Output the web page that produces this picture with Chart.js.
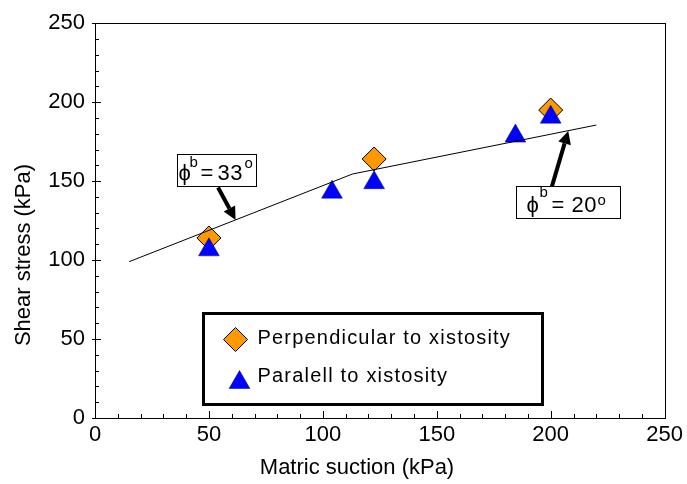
<!DOCTYPE html>
<html><head><meta charset="utf-8">
<script src="https://cdn.jsdelivr.net/npm/chart.js@4/dist/chart.umd.min.js"></script>
<style>html,body{margin:0;padding:0;background:#fff}#wrap{width:687px;height:484px}</style>
</head><body><div id="wrap"><canvas id="c" width="687" height="484"></canvas></div>
<script>
// ---- data ----
const perpX = [50, 122.5, 200];
const perpY = [114, 164, 195];
const paraX = [50, 104, 122.5, 184.5, 200];
const paraY = [106.5, 143, 149, 178.5, 190.5];
const fitX = [15, 113, 220];
const fitY = [99, 154.5, 185.5];
const xTickValues = [0, 50, 100, 150, 200, 250];
const yTickValues = [0, 50, 100, 150, 200, 250];
const seriesNames = ['Perpendicular to xistosity', 'Paralell to xistosity'];
const xTitle = 'Matric suction (kPa)';
const yTitle = 'Shear stress (kPa)';
const annotAngles = ['33', '20'];

// ---- decoration anchors (data space) ----
const annotBoxes = [
  {x1: 35.9, x2: 70.5, yTop: 167.3, yBot: 147.1,
   dx: {phi: 1, b: 12, eq: 23, num: 40, o: 67}, supB: 13, supO: 12, numLS: 0.5,
   from: [54.0, 146.0], to: [61.7, 125.4]},
  {x1: 184.8, x2: 230.3, yTop: 147.1, yBot: 126.9,
   dx: {phi: 10, b: 23, eq: 35, num: 55, o: 81}, supB: 15, supO: 7, numLS: 0.5,
   from: [200.4, 146.0], to: [207.7, 181.8]}
];
const legendBox = {x1: 47.3, x2: 196.1, yTop: 66.3, yBot: 8.8};

const FONT = '"Liberation Sans", Arial, sans-serif';
const toXY = (xs, ys) => xs.map((v, i) => ({x: v, y: ys[i]}));

const decor = {
  id: 'decor',
  beforeDatasetsDraw(chart) {
    const {ctx, chartArea: ca} = chart;
    const xs = chart.scales.x, ys = chart.scales.y;
    ctx.save();
    ctx.strokeStyle = '#000';
    ctx.lineWidth = 1;
    ctx.beginPath();
    for (let v = 0; v <= 250; v += 10) {
      const major = v % 50 === 0;
      const px = Math.round(xs.getPixelForValue(v)) + 0.5;
      ctx.moveTo(px, ca.bottom);
      ctx.lineTo(px, ca.bottom - (major ? 7 : 4));
      const py = Math.round(ys.getPixelForValue(v)) + 0.5;
      ctx.moveTo(ca.left - (major ? 3 : 0), py);
      ctx.lineTo(ca.left + (major ? 6 : 4), py);
    }
    ctx.stroke();
    ctx.strokeRect(Math.round(ca.left) + 0.5, Math.round(ca.top) + 0.5,
                   Math.round(ca.right - ca.left), Math.round(ca.bottom - ca.top));
    ctx.restore();
  },
  afterDatasetsDraw(chart) {
    const {ctx} = chart;
    const xs = chart.scales.x, ys = chart.scales.y;
    const X = v => xs.getPixelForValue(v), Y = v => ys.getPixelForValue(v);
    ctx.save();
    annotBoxes.forEach((b, i) => {
      const l = Math.round(X(b.x1)) + 0.5, r = Math.round(X(b.x2)) + 0.5;
      const t = Math.round(Y(b.yTop)) + 0.5, bt = Math.round(Y(b.yBot)) + 0.5;
      // arrow
      const sx = X(b.from[0]), sy = Y(b.from[1]), tx = X(b.to[0]), ty = Y(b.to[1]);
      const dx = tx - sx, dy = ty - sy, len = Math.hypot(dx, dy);
      const ux = dx / len, uy = dy / len, hl = 13, hw = 6.5;
      ctx.strokeStyle = '#000'; ctx.fillStyle = '#000';
      ctx.lineWidth = 4; ctx.lineCap = 'butt';
      ctx.beginPath(); ctx.moveTo(sx, sy); ctx.lineTo(tx - ux * hl, ty - uy * hl); ctx.stroke();
      ctx.beginPath();
      ctx.moveTo(tx, ty);
      ctx.lineTo(tx - ux * hl - uy * hw, ty - uy * hl + ux * hw);
      ctx.lineTo(tx - ux * hl + uy * hw, ty - uy * hl - ux * hw);
      ctx.closePath(); ctx.fill();
      // box
      ctx.fillStyle = '#fff';
      ctx.fillRect(l, t, r - l, bt - t);
      ctx.lineWidth = 1; ctx.strokeStyle = '#000';
      ctx.strokeRect(l, t, r - l, bt - t);
      // text
      ctx.fillStyle = '#000';
      ctx.textBaseline = 'alphabetic'; ctx.textAlign = 'left';
      const base = bt - 7;
      ctx.font = '22px ' + FONT;
      ctx.fillText('\u03D5', l + b.dx.phi, base);
      ctx.fillText('=', l + b.dx.eq, base);
      ctx.letterSpacing = b.numLS + 'px';
      ctx.fillText(annotAngles[i], l + b.dx.num, base);
      ctx.letterSpacing = '0px';
      ctx.font = '15px ' + FONT;
      ctx.fillText('b', l + b.dx.b, base - b.supB);
      ctx.fillText('o', l + b.dx.o, base - b.supO);
    });
    // legend
    const l = Math.round(X(legendBox.x1)) + 0.5, r = Math.round(X(legendBox.x2)) + 0.5;
    const t = Math.round(Y(legendBox.yTop)) + 0.5, bt = Math.round(Y(legendBox.yBot)) + 0.5;
    ctx.fillStyle = '#fff'; ctx.fillRect(l, t, r - l, bt - t);
    ctx.lineWidth = 3; ctx.strokeStyle = '#000'; ctx.strokeRect(l, t, r - l, bt - t);
    const ds = chart.data.datasets;
    const items = [ds[2], ds[1]];
    const markerPos = [[32, 26], [36, 69]];
    const textBase = [30, 68];
    items.forEach((d, k) => {
      ctx.fillStyle = d.backgroundColor; ctx.strokeStyle = d.borderColor;
      ctx.lineWidth = d.borderWidth;
      Chart.helpers.drawPoint(ctx, {pointStyle: d.pointStyle, radius: d.pointRadius,
        borderWidth: d.borderWidth, rotation: 0}, l + markerPos[k][0], t + markerPos[k][1]);
      ctx.fillStyle = '#000';
      ctx.font = '20px ' + FONT;
      ctx.letterSpacing = '1.2px';
      ctx.textBaseline = 'alphabetic'; ctx.textAlign = 'left';
      ctx.fillText(d.label, l + 54, t + textBase[k]);
      ctx.letterSpacing = '0px';
    });
    ctx.restore();
  },
  afterDraw(chart) {
    const {ctx} = chart;
    ctx.save();
    ctx.fillStyle = '#000';
    ctx.font = '22px ' + FONT;
    ctx.textAlign = 'center'; ctx.textBaseline = 'middle';
    ctx.fillText(xTitle, 357, 468);
    ctx.translate(24, 255);
    ctx.rotate(-Math.PI / 2);
    ctx.fillText(yTitle, 0, 0);
    ctx.restore();
  }
};

new Chart(document.getElementById('c'), {
  data: {
    datasets: [
      {type: 'line', label: 'fit', data: toXY(fitX, fitY), borderColor: '#000',
       borderWidth: 1, pointRadius: 0, tension: 0, fill: false},
      {type: 'scatter', label: seriesNames[1], data: toXY(paraX, paraY),
       pointStyle: 'triangle', pointRadius: 12, backgroundColor: '#0000FF',
       borderColor: '#000080', borderWidth: 0.5},
      {type: 'scatter', label: seriesNames[0], data: toXY(perpX, perpY),
       pointStyle: 'rectRot', pointRadius: 12, backgroundColor: '#FF9900',
       borderColor: '#000', borderWidth: 1}
    ]
  },
  options: {
    responsive: false, animation: false, devicePixelRatio: 1,
    layout: {padding: {top: 22, right: 21, left: 0, bottom: 0}},
    plugins: {legend: {display: false}, tooltip: {enabled: false}},
    scales: {
      x: {type: 'linear', min: 0, max: 250,
          afterFit: s => { s.height = 66; },
          afterBuildTicks: s => { s.ticks = xTickValues.map(v => ({value: v})); },
          grid: {display: false, drawTicks: false}, border: {display: false},
          ticks: {padding: 4, color: '#000', font: {size: 22, family: FONT}}},
      y: {type: 'linear', min: 0, max: 250,
          afterFit: s => { s.width = 95; },
          afterBuildTicks: s => { s.ticks = yTickValues.map(v => ({value: v})); },
          grid: {display: false, drawTicks: false}, border: {display: false},
          ticks: {padding: 10, color: '#000', font: {size: 22, family: FONT}}}
    }
  },
  plugins: [decor]
});
</script></body></html>
